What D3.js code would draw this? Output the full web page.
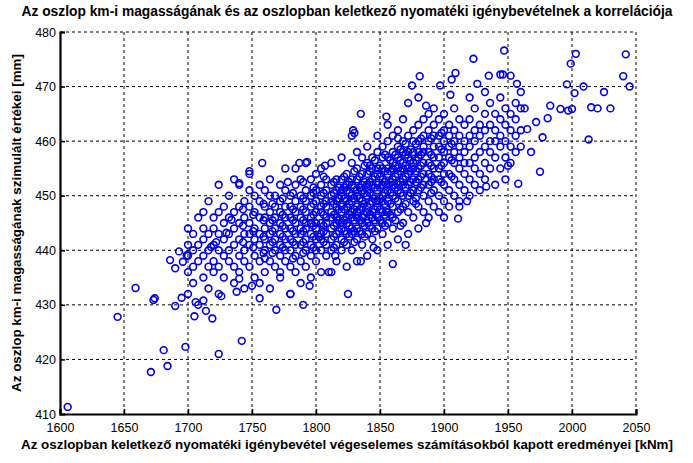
<!DOCTYPE html>
<html>
<head>
<meta charset="utf-8">
<script src="https://cdn.jsdelivr.net/npm/d3@7"></script>
<style>
  body { margin: 0; background: #fff; }
  text { font-family: "Liberation Sans", Arial, sans-serif; }
</style>
</head>
<body>
<div id="chart"></div>
<script>
const titleText = "Az oszlop km-i magasságának és az oszlopban keletkező nyomatéki igénybevételnek a korrelációja";
const xLabel = "Az oszlopban keletkező nyomatéki igénybevétel végeselemes számításokból kapott eredményei [kNm]";
const yLabel = "Az oszlop km-i magasságának szimulált értékei [mm]";
const xTicks = [1600, 1650, 1700, 1750, 1800, 1850, 1900, 1950, 2000, 2050];
const yTicks = [410, 420, 430, 440, 450, 460, 470, 480];

// core of the cloud, read column by column: [x, [y values]]
const coreColumns = [
  [1700, [432,436,439,441,444]], [1704, [434,437,440,443]], [1708, [430,438,441,446]],
  [1712, [435,439,442,444,447]], [1716, [433,437,440,443,449]], [1720, [436,438,441,444,446]],
  [1724, [432,437,440,443,447,452]], [1728, [435,439,442,445,448]], [1732, [438,440,443,446,450]],
  [1736, [434,437,441,444,447,453]], [1740, [436,439,442,445,448,452]], [1744, [433,438,440,443,446,449]],
  [1748, [437,441,443,445,448,451,454]], [1752, [435,439,442,444,447,450]], [1756, [434,438,441,443,446,449,452]],
  [1760, [436,440,442,444,446,448,451]], [1764, [433,438,441,443,445,447,450,453]], [1768, [437,440,442,444,446,448,450]],
  [1772, [435,439,441,443,445,447,449,452]], [1776, [438,440,442,444,446,448,451,455]], [1780, [432,437,440,442,444,446,448,450]],
  [1784, [436,439,441,443,445,447,449,452,455]], [1788, [434,438,441,443,444,446,448,450,453]],
  [1792, [437,440,442,444,445,447,449,451,456]], [1796, [435,439,441,443,445,446,448,450,453]],
  [1800, [438,440,442,444,445,447,449,451,454]], [1804, [436,440,442,443,445,447,448,450,452,455]],
  [1808, [439,441,443,445,446,448,449,451,453]], [1812, [436,440,442,444,446,447,449,450,452,456]],
  [1816, [438,441,443,445,446,448,449,451,453]], [1820, [440,442,444,445,447,448,450,451,453,457]],
  [1824, [437,441,443,445,446,448,449,451,452,454]], [1828, [440,443,444,446,447,449,450,452,453,456,461]],
  [1832, [438,442,444,446,447,448,450,451,453,455,458]], [1836, [441,443,445,446,448,449,451,452,454,457]],
  [1840, [439,443,445,447,448,450,451,452,454,456,459]], [1844, [442,444,446,447,449,450,452,453,455,457]],
  [1848, [440,444,446,448,449,451,452,454,455,458,461]], [1852, [443,445,447,449,450,452,453,455,457,459]],
  [1856, [441,445,447,449,451,452,454,455,457,460,463]], [1860, [444,446,448,450,452,453,455,456,458,461]],
  [1864, [442,447,449,451,452,454,455,457,459,462]], [1868, [445,448,450,452,453,455,456,458,460,464]],
  [1872, [443,447,450,452,454,455,457,458,461,467]], [1876, [446,449,451,453,455,456,458,460,462]],
  [1880, [444,448,451,453,455,457,458,460,463,468]], [1884, [447,450,452,454,456,458,459,461,464]],
  [1888, [446,449,452,454,456,458,460,462,465]], [1892, [448,451,453,455,457,459,461,463,466]],
  [1896, [447,450,453,455,457,459,461,464]], [1900, [449,452,454,456,458,460,462,465]],
  [1904, [448,451,454,457,459,461,463]], [1908, [450,453,456,458,460,462,466]],
  [1912, [449,452,455,457,459,461,464]], [1916, [451,454,456,458,460,463]],
  [1920, [450,453,456,459,461,464,468]], [1924, [452,455,457,460,462,466]],
  [1928, [451,454,458,461,463]], [1932, [453,456,459,462,465,469]], [1936, [455,458,460,463,467]],
  [1940, [452,457,460,462,465]], [1944, [455,459,461,464,468]], [1948, [453,457,460,463,466]],
  [1952, [456,459,462,465]], [1956, [458,461,464,467]], [1960, [459,462,466]]
];

// the densest part, read between the columns above
const denseColumns = [
  [1743, [441.5,444.5,447.5]], [1751, [440.5,443.5,446.5]], [1759, [439.5,442.5,445.5,448.5]],
  [1766, [439.5,441.5,443.5,445.5,448.5]], [1774, [440.5,442.5,444.5,446.5,449.5]],
  [1782, [438.5,441.5,443.5,445.5,447.5,450.5]], [1790, [439.5,441.5,443.5,445.5,447.5,449.5,452.5]],
  [1798, [440.5,442.5,444.5,446.5,448.5,450.5]], [1806, [441.5,443.5,444.5,446.5,448.5,450.5,453.5]],
  [1814, [440.5,442.5,444.5,446.5,448.5,450.5,452.5]], [1818, [443.5,445.5,447.5,449.5,451.5]],
  [1822, [441.5,443.5,445.5,447.5,449.5,451.5,453.5]], [1826, [442.5,444.5,446.5,448.5,450.5,452.5]],
  [1830, [441.5,443.5,445.5,447.5,449.5,451.5,454.5]], [1834, [443.5,445.5,447.5,449.5,451.5,453.5]],
  [1838, [442.5,444.5,446.5,448.5,450.5,452.5,455.5]], [1842, [444.5,446.5,448.5,450.5,452.5,454.5]],
  [1846, [443.5,445.5,447.5,449.5,451.5,453.5,456.5]], [1850, [445.5,447.5,449.5,451.5,453.5,455.5]],
  [1854, [444.5,446.5,448.5,450.5,452.5,454.5,457.5]], [1858, [446.5,448.5,450.5,452.5,454.5,456.5]],
  [1862, [445.5,449.5,451.5,453.5,455.5,457.5]], [1866, [447.5,450.5,452.5,454.5,456.5,458.5]],
  [1870, [448.5,451.5,453.5,455.5,457.5,459.5]], [1874, [450.5,452.5,454.5,456.5,458.5]],
  [1878, [449.5,452.5,454.5,456.5,459.5]], [1882, [451.5,453.5,455.5,457.5,460.5]],
  [1890, [450.5,453.5,455.5,457.5,460.5]], [1898, [452.5,455.5,458.5,461.5]], [1906, [453.5,456.5,459.5]]
];

// scattered points around the edges of the cloud
const outliers = [
  [1606,411.3],[1645,427.8],[1659,433.1],[1673,430.9],[1674,431.2],[1671,417.7],[1681,421.7],[1684,418.8],
  [1698,422.3],[1724,421],[1742,423.4],[1769,429.1],[1719,427.5],[1705,427.9],[1690,429.8],[1695,431.3],
  [1706,430.5],[1712,430.8],[1714,428.9],[1726,431.6],[1738,432.4],[1756,431.2],[1750,433.5],[1740,434.8],
  [1690,436.7],[1696,437.9],[1686,438.2],[1699,439.1],[1693,439.8],[1718,440.6],[1722,441.5],[1730,443.2],
  [1734,445.6],[1748,454.5],[1758,456],[1740,452.3],[1787,456],[1793,456.2],[1829,462],[1830,461.5],
  [1835,465],[1807,455.5],[1860,437.5],[1825,432],[1780,432],[1790,430],[1810,436],[1835,438],[1900,446],
  [1912,448],[1870,441],[1947,476.6],[2003,476],[2042,475.9],[1999,474.2],[1923,475.1],[2040,471.9],
  [2045,470],[1996,470.4],[2009,470],[2002,468.8],[2013,460.3],[1983,466.5],[1991,465.9],[1997,465.6],
  [2000,465.9],[1981,464.2],[1977,460.7],[1975,454.4],[1958,452.2],[1965,462.2],[1963,466],[1960,469],
  [1952,472],[1957,470.5],[1944,472.2],[1946,472.2],[1935,472],[1909,472.5],[1906,471.3],[1897,470.2],
  [1881,471.9],[1933,451.7],[1911,445.8],[1886,445],[2020,466],[2015,466.2],[2030,466],[2025,469],
  [1968,458],[1972,463.5],[1950,455.5],[1918,449],[1890,452.5],[1878,448.5],[1866,444.5],[1855,447],
  [1760,438.5],[1772,436],[1795,433.5],[1815,439],[1845,440.5],[1802,442.5],[1818,449.5],[1842,455.5],
  [1864,460.5],[1886,466.5],[1905,468.5],[1926,470.5],[1875,470.2],[1855,464.5],[1798,451.5],[1778,452.5]
];

const points = outliers.slice();
coreColumns.forEach(([x, ys]) => ys.forEach(y => points.push([x, y])));
denseColumns.forEach(([x, ys]) => ys.forEach(y => points.push([x, y])));

const margin = { top: 32, right: 57, bottom: 49, left: 60 };
const width = 693 - margin.left - margin.right;
const height = 463 - margin.top - margin.bottom;

const root = d3.select("#chart").append("svg")
    .attr("width", 693)
    .attr("height", 463);

const svg = root.append("g")
    .attr("transform", `translate(${margin.left},${margin.top})`);

const x = d3.scaleLinear().domain([1600, 2050]).range([0, width]);
const y = d3.scaleLinear().domain([410, 480]).range([height, 0]);

// dashed grid
svg.append("g").selectAll("line").data(xTicks.slice(1)).enter().append("line")
    .attr("x1", d => x(d)).attr("x2", d => x(d))
    .attr("y1", 0).attr("y2", height)
    .attr("stroke", "#000").attr("stroke-dasharray", "3,3");
svg.append("g").selectAll("line").data(yTicks.slice(1)).enter().append("line")
    .attr("x1", 0).attr("x2", width)
    .attr("y1", d => y(d)).attr("y2", d => y(d))
    .attr("stroke", "#000").attr("stroke-dasharray", "3,3");

// points
svg.append("g").selectAll("circle").data(points).enter().append("circle")
    .attr("cx", d => x(d[0]))
    .attr("cy", d => y(d[1]))
    .attr("r", 3.4)
    .attr("fill", "none")
    .attr("stroke", "#0000e6")
    .attr("stroke-width", 1.6);

// axes
const xAxis = svg.append("g")
    .attr("transform", `translate(0,${height})`)
    .call(d3.axisBottom(x).tickValues(xTicks).tickSize(-5).tickPadding(9).tickFormat(d3.format("d")));
const yAxis = svg.append("g")
    .call(d3.axisLeft(y).tickValues(yTicks).tickSize(-5).tickPadding(4).tickFormat(d3.format("d")));
[xAxis, yAxis].forEach(a => {
    a.select(".domain").attr("stroke-width", 2.2);
    a.selectAll(".tick line").attr("stroke-width", 1.5);
    a.selectAll("text").style("font-size", "12.5px").attr("fill", "#000");
});

root.append("text")
    .attr("x", 347).attr("y", 16)
    .attr("text-anchor", "middle")
    .style("font-size", "13.8px").style("font-weight", "bold")
    .text(titleText);

root.append("text")
    .attr("x", 347).attr("y", 449)
    .attr("text-anchor", "middle")
    .style("font-size", "13.4px").style("font-weight", "bold")
    .text(xLabel);

root.append("text")
    .attr("transform", `translate(21,${margin.top + height / 2}) rotate(-90)`)
    .attr("text-anchor", "middle")
    .style("font-size", "13.4px").style("font-weight", "bold")
    .text(yLabel);
</script>
</body>
</html>
